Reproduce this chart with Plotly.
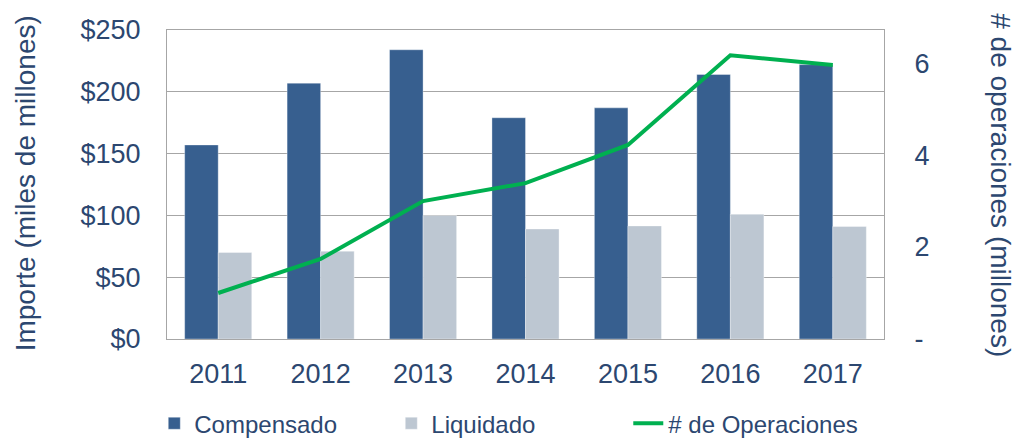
import plotly.graph_objects as go

years = ["2011", "2012", "2013", "2014", "2015", "2016", "2017"]
compensado = [157, 207, 234, 179, 187, 214, 222]
liquidado = [70, 71, 100, 89, 91.5, 101, 91]
operaciones = [1.0, 1.74, 3.0, 3.39, 4.22, 6.17, 5.96]

left_ticks = [0, 50, 100, 150, 200, 250]
left_ticktext = ["$0", "$50", "$100", "$150", "$200", "$250"]
right_ticks = [0, 2, 4, 6]
right_ticktext = ["-", "2", "4", "6"]

TXT = "#2C4770"
GRID = "#A6A6A6"
FONT = "Liberation Sans, Arial, sans-serif"

fig = go.Figure()
fig.add_trace(go.Bar(x=years, y=compensado, name="Compensado",
                     marker=dict(color="#375F8F", line=dict(color="rgba(255,255,255,0.35)", width=1))))
fig.add_trace(go.Bar(x=years, y=liquidado, name="Liquidado",
                     marker=dict(color="#BDC7D2", line=dict(color="rgba(255,255,255,0.35)", width=1))))
fig.add_trace(go.Scatter(x=years, y=operaciones, name="# de Operaciones", yaxis="y2",
                         mode="lines", line=dict(color="#00B050", width=4)))

fig.update_layout(
    width=1015, height=439,
    margin=dict(l=167, r=131, t=30, b=100, autoexpand=False),
    paper_bgcolor="white", plot_bgcolor="white",
    font=dict(family=FONT, color=TXT, size=27),
    barmode="group", bargap=0.345, bargroupgap=0,
    showlegend=True,
    legend=dict(orientation="h", xref="container", yref="container",
                x=0.152, xanchor="left", y=0.035, yanchor="middle",
                font=dict(size=24, color=TXT), entrywidth=192, entrywidthmode="pixels",
                traceorder="normal"),
    xaxis=dict(showline=True, linecolor=GRID, linewidth=1, mirror=True,
               ticks="outside", ticklen=11, tickcolor="rgba(0,0,0,0)",
               tickfont=dict(size=27, color=TXT)),
    yaxis=dict(range=[0, 250], tickvals=left_ticks, ticktext=left_ticktext,
               showgrid=True, gridcolor=GRID, gridwidth=1,
               showline=True, linecolor=GRID, linewidth=1, mirror=True,
               ticks="outside", ticklen=20, tickcolor="rgba(0,0,0,0)",
               tickfont=dict(size=27, color=TXT), zeroline=False),
    yaxis2=dict(range=[0, 6.72], tickvals=right_ticks, ticktext=right_ticktext,
                overlaying="y", side="right", showgrid=False, zeroline=False,
                ticks="outside", ticklen=24, tickcolor="rgba(0,0,0,0)",
                tickfont=dict(size=27, color=TXT)),
    annotations=[
        dict(text="Importe (miles de millones)", xref="paper", yref="paper",
             x=-0.197, y=0.503, xanchor="center", yanchor="middle",
             textangle=-90, showarrow=False, font=dict(size=28, color=TXT)),
        dict(text="# de operaciones (millones)", xref="paper", yref="paper",
             x=1.162, y=0.497, xanchor="center", yanchor="middle",
             textangle=90, showarrow=False, font=dict(size=28, color=TXT)),
    ],
)

fig.write_html("out.html")
